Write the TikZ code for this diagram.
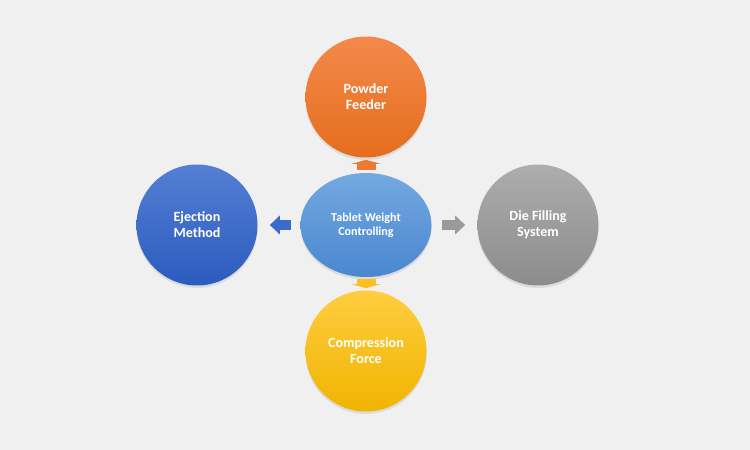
\documentclass[tikz,border=0pt]{standalone}
\usepackage{fontspec}
\setmainfont{Carlito}
\usetikzlibrary{shapes.geometric,arrows.meta,shadows}
\definecolor{fondo}{HTML}{F0F0F0}
\definecolor{naranjaA}{HTML}{F4894B}\definecolor{naranjaB}{HTML}{E56D1C}
\definecolor{azulA}{HTML}{547FD4}\definecolor{azulB}{HTML}{2B5BBE}
\definecolor{celesteA}{HTML}{74A9E1}\definecolor{celesteB}{HTML}{4A87CF}
\definecolor{grisA}{HTML}{ADADAD}\definecolor{grisB}{HTML}{8C8C8C}
\definecolor{amarilloA}{HTML}{FFCD40}\definecolor{amarilloB}{HTML}{F0B400}
\tikzset{
  burbuja/.style={circle, minimum size=2.42cm, inner sep=0pt, align=center,
    text=white, font=\bfseries\fontsize{8}{9}\selectfont,
    drop shadow={shadow xshift=0pt, shadow yshift=-0.05cm, opacity=0.18}},
  flechalado/.style={line width=0.19cm, -{Triangle[length=0.2cm,width=0.37cm]}},
  flechavert/.style={line width=0.38cm, -{Triangle[length=0.08cm,width=0.58cm]}}
}
\begin{document}
\begin{tikzpicture}
  \useasboundingbox (0,0) rectangle (15,9);
  \fill[fondo] (0,0) rectangle (15,9);
  % el centro
  \node[ellipse, minimum width=2.62cm, minimum height=2.08cm, inner sep=0pt, align=center,
    top color=celesteA, bottom color=celesteB, text=white,
    font=\bfseries\fontsize{6.9}{7.8}\selectfont,
    drop shadow={shadow xshift=0pt, shadow yshift=-0.05cm, opacity=0.18}]
    (peso) at (7.32,4.5) {Tablet Weight\\Controlling};
  % los cuatro factores
  \node[burbuja, top color=naranjaA, bottom color=naranjaB] (polvo) at (7.32,7.06) {Powder\\Feeder};
  \node[burbuja, top color=azulA, bottom color=azulB] (eyeccion) at (3.94,4.5) {Ejection\\Method};
  \node[burbuja, top color=grisA, bottom color=grisB] (llenado) at (10.76,4.5) {Die Filling\\System};
  \node[burbuja, top color=amarilloA, bottom color=amarilloB] (fuerza) at (7.32,1.98) {Compression\\Force};
  % las flechas
  \draw[flechavert, color={rgb,255:red,236;green,122;blue,50}, shorten <=0.06cm, shorten >=0.04cm] (peso.north) -- (polvo.south);
  \draw[flechavert, color={rgb,255:red,251;green,192;blue,30}, shorten <=0.04cm, shorten >=0.04cm] (peso.south) -- (fuerza.north);
  \draw[flechalado, color={rgb,255:red,60;green,108;blue,203}, shorten <=0.18cm, shorten >=0.24cm] (peso.west) -- (eyeccion.east);
  \draw[flechalado, color={rgb,255:red,154;green,154;blue,154}, shorten <=0.2cm, shorten >=0.24cm] (peso.east) -- (llenado.west);
\end{tikzpicture}
\end{document}
